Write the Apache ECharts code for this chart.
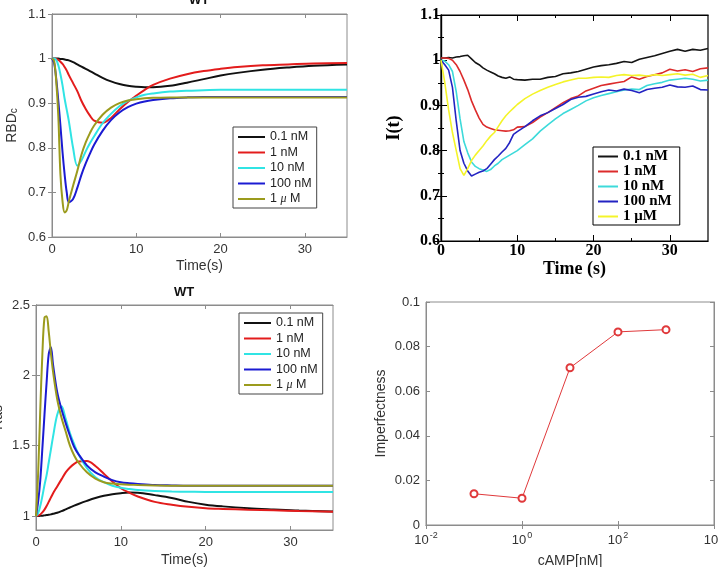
<!DOCTYPE html>
<html><head><meta charset="utf-8">
<script src="https://cdn.jsdelivr.net/npm/echarts@6/dist/echarts.min.js"></script>
<style>html,body{margin:0;padding:0;background:#fff;overflow:hidden}#c{width:719px;height:567px}</style>
</head><body><div id="c"></div>
<script>
// ---------- data ----------
const simT = [0,0.25,0.5,0.75,1,1.25,1.5,1.75,2,2.5,3,3.5,4,4.5,5,6,7,8,9,10,11,12,14,16,18,20,22,25,28,31,35];
// panel 1: RBD_c (simulation)
const rbd01  = [1,1,1,1,0.999,0.999,0.998,0.997,0.996,0.992,0.987,0.982,0.977,0.972,0.967,0.957,0.949,0.943,0.939,0.937,0.936,0.936,0.939,0.946,0.954,0.962,0.968,0.975,0.98,0.984,0.987];
const rbd1   = [1,1,0.999,0.997,0.993,0.988,0.981,0.973,0.963,0.945,0.927,0.905,0.887,0.872,0.861,0.856,0.867,0.886,0.903,0.917,0.93,0.941,0.955,0.965,0.972,0.977,0.981,0.985,0.987,0.989,0.99];
const rbd10  = [1,1,0.997,0.985,0.965,0.94,0.91,0.885,0.86,0.8,0.76,0.772,0.792,0.81,0.826,0.855,0.876,0.893,0.905,0.913,0.919,0.922,0.926,0.928,0.929,0.93,0.93,0.93,0.93,0.93,0.93];
const rbd100 = [1,0.99,0.955,0.905,0.85,0.79,0.74,0.7,0.678,0.685,0.71,0.74,0.765,0.787,0.807,0.838,0.862,0.879,0.891,0.899,0.904,0.907,0.911,0.913,0.914,0.914,0.914,0.914,0.914,0.914,0.914];
const rbd1u  = [1,0.995,0.95,0.87,0.74,0.68,0.655,0.66,0.68,0.715,0.748,0.785,0.812,0.833,0.85,0.874,0.89,0.9,0.906,0.909,0.911,0.912,0.913,0.913,0.913,0.913,0.913,0.913,0.913,0.913,0.913];
// panel 3: Ras (simulation)
const ras01  = [1,1,1.001,1.002,1.004,1.006,1.008,1.011,1.015,1.023,1.034,1.047,1.06,1.073,1.085,1.107,1.127,1.143,1.155,1.162,1.166,1.165,1.148,1.128,1.1,1.08,1.068,1.055,1.046,1.038,1.032];
const ras1   = [1,1.003,1.01,1.025,1.045,1.07,1.1,1.13,1.16,1.21,1.26,1.31,1.345,1.37,1.387,1.39,1.355,1.3,1.245,1.197,1.165,1.138,1.1,1.08,1.065,1.055,1.05,1.044,1.04,1.035,1.03];
const ras10  = [1,1.02,1.07,1.14,1.22,1.29,1.38,1.47,1.56,1.72,1.78,1.69,1.59,1.51,1.44,1.34,1.275,1.24,1.215,1.2,1.192,1.185,1.178,1.174,1.172,1.17,1.17,1.17,1.17,1.17,1.17];
const ras100 = [1,1.1,1.25,1.48,1.72,1.95,2.15,2.2,2.08,1.88,1.76,1.66,1.57,1.49,1.44,1.36,1.31,1.28,1.255,1.24,1.233,1.228,1.22,1.217,1.215,1.215,1.215,1.215,1.215,1.215,1.215];
const ras1u  = [1,1.3,1.75,2.15,2.41,2.42,2.31,2.16,2.03,1.83,1.7,1.6,1.5,1.43,1.38,1.31,1.265,1.24,1.23,1.225,1.222,1.22,1.217,1.215,1.215,1.215,1.215,1.215,1.215,1.215,1.215];
// panel 2: I(t) (experiment)
const expT = [0,0.5,1,1.5,2,2.5,3,3.5,4,4.5,5,5.5,6,6.5,7,7.5,8,8.5,9,9.5,10,11,12,13,14,15,16,17,18,19,20,21,22,23,24,25,26,27,28,29,30,31,32,33,34,35];
const exp01  = [1.005,1.005,1.006,1.005,1.007,1.008,1.01,1.011,1.003,0.995,0.99,0.983,0.978,0.974,0.97,0.965,0.962,0.96,0.963,0.958,0.957,0.956,0.958,0.958,0.962,0.964,0.97,0.972,0.975,0.98,0.985,0.988,0.99,0.993,0.997,0.995,1.002,1.006,1.01,1.015,1.02,1.024,1.02,1.024,1.022,1.026];
const exp1   = [1.005,1.005,1.004,1.0,0.99,0.975,0.956,0.935,0.91,0.89,0.872,0.858,0.852,0.849,0.846,0.845,0.844,0.843,0.844,0.846,0.852,0.853,0.862,0.874,0.884,0.895,0.906,0.915,0.921,0.932,0.938,0.944,0.947,0.95,0.953,0.963,0.958,0.964,0.968,0.972,0.98,0.976,0.979,0.975,0.981,0.983];
const exp10  = [1.0,0.998,0.99,0.975,0.93,0.87,0.82,0.795,0.775,0.765,0.76,0.757,0.754,0.758,0.766,0.772,0.78,0.785,0.79,0.795,0.8,0.813,0.826,0.843,0.857,0.87,0.882,0.891,0.9,0.91,0.917,0.922,0.926,0.93,0.934,0.936,0.935,0.944,0.948,0.951,0.956,0.958,0.96,0.958,0.954,0.956];
const exp100 = [1.0,0.99,0.978,0.94,0.865,0.8,0.772,0.755,0.744,0.748,0.752,0.755,0.76,0.77,0.78,0.788,0.797,0.805,0.818,0.836,0.842,0.853,0.866,0.877,0.884,0.893,0.902,0.913,0.918,0.92,0.925,0.93,0.934,0.932,0.936,0.933,0.928,0.935,0.938,0.94,0.945,0.941,0.94,0.943,0.935,0.934];
const exp1u  = [1.0,0.95,0.89,0.84,0.8,0.76,0.745,0.76,0.778,0.79,0.8,0.81,0.822,0.832,0.84,0.853,0.866,0.877,0.886,0.894,0.902,0.915,0.925,0.933,0.94,0.946,0.952,0.956,0.96,0.96,0.962,0.963,0.962,0.966,0.968,0.966,0.967,0.965,0.968,0.966,0.968,0.97,0.967,0.969,0.962,0.966];
// panel 4: imperfectness vs cAMP
const camp = [0.1,1,10,100,1000];
const imperfectness = [0.014,0.012,0.0705,0.0866,0.0876];
// labels / ticks
const simLabels = ['0.1 nM','1 nM','10 nM','100 nM','1 μ M'];
const expLabels = ['0.1 nM','1 nM','10 nM','100 nM','1 μM'];
const timeTicks = [0,10,20,30];
const timeMinor = [5,15,25];
const rasTicks = [1,1.5,2,2.5];

// ---------- style ----------
const SANS = 'Liberation Sans, Arial, sans-serif';
const SERIF = 'Liberation Serif, Times New Roman, serif';
const FRAME = '#8c8c8c';
const TXT = '#333333';
const simColors = ['#111111','#e31c1c','#30e4e4','#1b1bd2','#9b9b1d'];
const expColors = ['#141414','#dc2b2b','#3ddada','#2323c2','#f4f42a'];

function pairs(xs, ys){ return xs.map((x,i)=>[x, ys[i]]); }
function legendFmt(n){ const s = n.split('|')[1]; return s.replace('μ ', '{mu|μ} '); }

const chart = echarts.init(document.getElementById('c'), null, {renderer:'canvas'});

function mLabel(extra){ return Object.assign({color:TXT, fontSize:13, fontFamily:SANS, margin:6}, extra||{}); }
function mTick(extra){ return Object.assign({inside:true, length:4, lineStyle:{color:FRAME}}, extra||{}); }
const mLine = {show:true, lineStyle:{color:FRAME, width:1}};
const bLine = {show:true, lineStyle:{color:'#000', width:1.2}};

const xAxes = [
  // 0 panel1 bottom
  {gridIndex:0, type:'value', position:'bottom', min:0, max:35, interval:10,
   axisLine:mLine, axisTick:mTick({customValues:timeTicks}), axisLabel:mLabel({customValues:timeTicks}), splitLine:{show:false},
   name:'Time(s)', nameLocation:'middle', nameGap:22, nameTextStyle:{color:TXT, fontSize:14, fontFamily:SANS}},
  // 1 panel1 top
  {gridIndex:0, type:'value', position:'top', min:0, max:35, interval:10,
   axisLine:mLine, axisTick:mTick({customValues:timeTicks}), axisLabel:{show:false}, splitLine:{show:false}},
  // 2 panel2 bottom main
  {gridIndex:1, type:'value', position:'bottom', min:0, max:35, interval:10,
   axisLine:bLine, axisTick:{inside:true, length:6, customValues:timeTicks, lineStyle:{color:'#000'}},
   axisLabel:{customValues:timeTicks, color:'#000', fontSize:16, fontWeight:'bold', fontFamily:SERIF, margin:2}, splitLine:{show:false},
   name:'Time (s)', nameLocation:'middle', nameGap:17, nameTextStyle:{color:'#000', fontSize:18, fontWeight:'bold', fontFamily:SERIF}},
  // 3 panel2 bottom minor
  {gridIndex:1, type:'value', position:'bottom', min:0, max:35, interval:5,
   axisLine:{show:false}, axisTick:{inside:true, length:3, customValues:timeMinor, lineStyle:{color:'#000'}}, axisLabel:{show:false}, splitLine:{show:false}},
  // 4 panel2 top main
  {gridIndex:1, type:'value', position:'top', min:0, max:35, interval:10,
   axisLine:bLine, axisTick:{inside:true, length:6, customValues:timeTicks, lineStyle:{color:'#000'}}, axisLabel:{show:false}, splitLine:{show:false}},
  // 5 panel2 top minor
  {gridIndex:1, type:'value', position:'top', min:0, max:35, interval:5,
   axisLine:{show:false}, axisTick:{inside:true, length:3, customValues:timeMinor, lineStyle:{color:'#000'}}, axisLabel:{show:false}, splitLine:{show:false}},
  // 6 panel3 bottom
  {gridIndex:2, type:'value', position:'bottom', min:0, max:35, interval:10,
   axisLine:mLine, axisTick:mTick({customValues:timeTicks}), axisLabel:mLabel({customValues:timeTicks}), splitLine:{show:false},
   name:'Time(s)', nameLocation:'middle', nameGap:23, nameTextStyle:{color:TXT, fontSize:14, fontFamily:SANS}},
  // 7 panel3 top
  {gridIndex:2, type:'value', position:'top', min:0, max:35, interval:10,
   axisLine:mLine, axisTick:mTick({customValues:timeTicks}), axisLabel:{show:false}, splitLine:{show:false}},
  // 8 panel4 bottom (log)
  {gridIndex:3, type:'log', logBase:10, position:'bottom', min:0.01, max:10000, interval:2,
   axisLine:mLine, axisTick:mTick(), minorTick:{show:false}, splitLine:{show:false},
   axisLabel:mLabel({formatter:v=>'10{sup|'+Math.round(Math.log10(v))+'}', rich:{sup:{fontSize:9, color:TXT, fontFamily:SANS, padding:[0,0,9,1]}}}),
   name:'cAMP[nM]', nameLocation:'middle', nameGap:29, nameTextStyle:{color:TXT, fontSize:14, fontFamily:SANS}},
  // 9 panel4 top (log)
  {gridIndex:3, type:'log', logBase:10, position:'top', min:0.01, max:10000, interval:2,
   axisLine:mLine, axisTick:mTick(), axisLabel:{show:false}, splitLine:{show:false}}
];

const yAxes = [
  // 0 panel1 left
  {gridIndex:0, type:'value', position:'left', min:0.6, max:1.1, interval:0.1,
   axisLine:mLine, axisTick:mTick(), axisLabel:mLabel(), splitLine:{show:false},
   name:'RBD{sub|c}', nameLocation:'middle', nameGap:33,
   nameTextStyle:{color:TXT, fontSize:14, fontFamily:SANS, rich:{sub:{fontSize:10, color:TXT, fontFamily:SANS, verticalAlign:'bottom'}}}},
  // 1 panel1 right
  {gridIndex:0, type:'value', position:'right', min:0.6, max:1.1, interval:0.1,
   axisLine:mLine, axisTick:mTick(), axisLabel:{show:false}, splitLine:{show:false}},
  // 2 panel2 left
  {gridIndex:1, type:'value', position:'left', min:0.6, max:1.1, interval:0.1,
   axisLine:bLine, axisTick:{inside:true, length:6, lineStyle:{color:'#000'}},
   minorTick:{show:true, splitNumber:2, length:3, lineStyle:{color:'#000'}},
   axisLabel:{color:'#000', fontSize:16, fontWeight:'bold', fontFamily:SERIF, margin:1}, splitLine:{show:false},
   name:'I(t)', nameLocation:'middle', nameGap:38, nameTextStyle:{color:'#000', fontSize:18, fontWeight:'bold', fontFamily:SERIF}},
  // 3 panel2 right
  {gridIndex:1, type:'value', position:'right', min:0.6, max:1.1, interval:0.1,
   axisLine:bLine, axisTick:{inside:true, length:6, lineStyle:{color:'#000'}},
   minorTick:{show:true, splitNumber:2, length:3, lineStyle:{color:'#000'}}, axisLabel:{show:false}, splitLine:{show:false}},
  // 4 panel3 left
  {gridIndex:2, type:'value', position:'left', min:0.9, max:2.5,
   axisLine:mLine, axisTick:mTick({customValues:rasTicks}), axisLabel:mLabel({customValues:rasTicks}), splitLine:{show:false},
   name:'Ras', nameLocation:'middle', nameGap:31, nameTextStyle:{color:TXT, fontSize:14, fontFamily:SANS}},
  // 5 panel3 right
  {gridIndex:2, type:'value', position:'right', min:0.9, max:2.5,
   axisLine:mLine, axisTick:mTick({customValues:rasTicks}), axisLabel:{show:false}, splitLine:{show:false}},
  // 6 panel4 left
  {gridIndex:3, type:'value', position:'left', min:0, max:0.1, interval:0.02,
   axisLine:mLine, axisTick:mTick(), axisLabel:mLabel(), splitLine:{show:false},
   name:'Imperfectness', nameLocation:'middle', nameGap:38, nameTextStyle:{color:TXT, fontSize:14, fontFamily:SANS}},
  // 7 panel4 right
  {gridIndex:3, type:'value', position:'right', min:0, max:0.1, interval:0.02,
   axisLine:mLine, axisTick:mTick(), axisLabel:{show:false}, splitLine:{show:false}}
];

function simSeries(prefix, xi, yi, arrs){
  return arrs.map((a,i)=>({
    name: prefix + '|' + simLabels[i], type:'line', xAxisIndex:xi, yAxisIndex:yi,
    data: pairs(simT, a), showSymbol:false, symbol:'none', smooth:0.35,
    lineStyle:{color:simColors[i], width:2}, itemStyle:{color:simColors[i]}, z:2+i
  }));
}
const series = [].concat(
  simSeries('a', 0, 0, [rbd01, rbd1, rbd10, rbd100, rbd1u]),
  [exp01, exp1, exp10, exp100, exp1u].map((a,i)=>({
    name: 'b|' + expLabels[i], type:'line', xAxisIndex:2, yAxisIndex:2,
    data: pairs(expT, a), showSymbol:false, symbol:'none',
    lineStyle:{color:expColors[i], width:1.6}, itemStyle:{color:expColors[i]}, z:2+i
  })),
  simSeries('c', 6, 4, [ras01, ras1, ras10, ras100, ras1u]),
  [{name:'imperf', type:'line', xAxisIndex:8, yAxisIndex:6, data: pairs(camp, imperfectness),
    symbol:'emptyCircle', symbolSize:7, showSymbol:true,
    lineStyle:{color:'#e0393b', width:1}, itemStyle:{color:'#e0393b', borderWidth:1}}]
);

function simLegend(prefix, left, top){
  return {
    data: simLabels.map(l=>prefix+'|'+l), orient:'vertical', left:left, top:top,
    icon:'rect', itemWidth:27, itemHeight:2, itemGap:1.5, selectedMode:false,
    backgroundColor:'#fff', borderColor:'#444', borderWidth:1, padding:[3,5,2,5],
    formatter: legendFmt,
    textStyle:{color:'#222', fontSize:12.5, fontFamily:SANS, lineHeight:14,
      rich:{mu:{fontFamily:SERIF, fontStyle:'italic', fontSize:12, color:'#222'}}}
  };
}

const gridBase = {show:true, borderWidth:1, backgroundColor:'#fff', outerBoundsMode:'none', containLabel:false};
const option = {
  animation:false,
  backgroundColor:'#fff',
  title:[
    {text:'WT', left:199, top:-6, textAlign:'center', padding:0, textStyle:{fontSize:13, fontWeight:'bold', color:'#111', fontFamily:SANS}},
    {text:'WT', left:184, top:286, textAlign:'center', padding:0, textStyle:{fontSize:13, fontWeight:'bold', color:'#111', fontFamily:SANS}}
  ],
  grid:[
    Object.assign({}, gridBase, {left:52, top:14, width:295, height:223, borderColor:FRAME}),
    Object.assign({}, gridBase, {left:441, top:15, width:267, height:226, borderColor:'#000', borderWidth:1.2}),
    Object.assign({}, gridBase, {left:36, top:305, width:297, height:225, borderColor:FRAME}),
    Object.assign({}, gridBase, {left:426, top:302, width:288, height:223, borderColor:FRAME})
  ],
  legend:[
    simLegend('a', 233, 127),
    {
      data: expLabels.map(l=>'b|'+l), orient:'vertical', left:593, top:147,
      icon:'rect', itemWidth:20, itemHeight:2, itemGap:0, selectedMode:false,
      backgroundColor:'#fff', borderColor:'#000', borderWidth:1, padding:[2,8,1,5],
      formatter: n=>n.split('|')[1],
      textStyle:{color:'#000', fontSize:15, fontWeight:'bold', fontFamily:SERIF, lineHeight:13.8}
    },
    simLegend('c', 239, 313)
  ],
  xAxis: xAxes,
  yAxis: yAxes,
  series: series
};
chart.setOption(option);
</script>
</body></html>
